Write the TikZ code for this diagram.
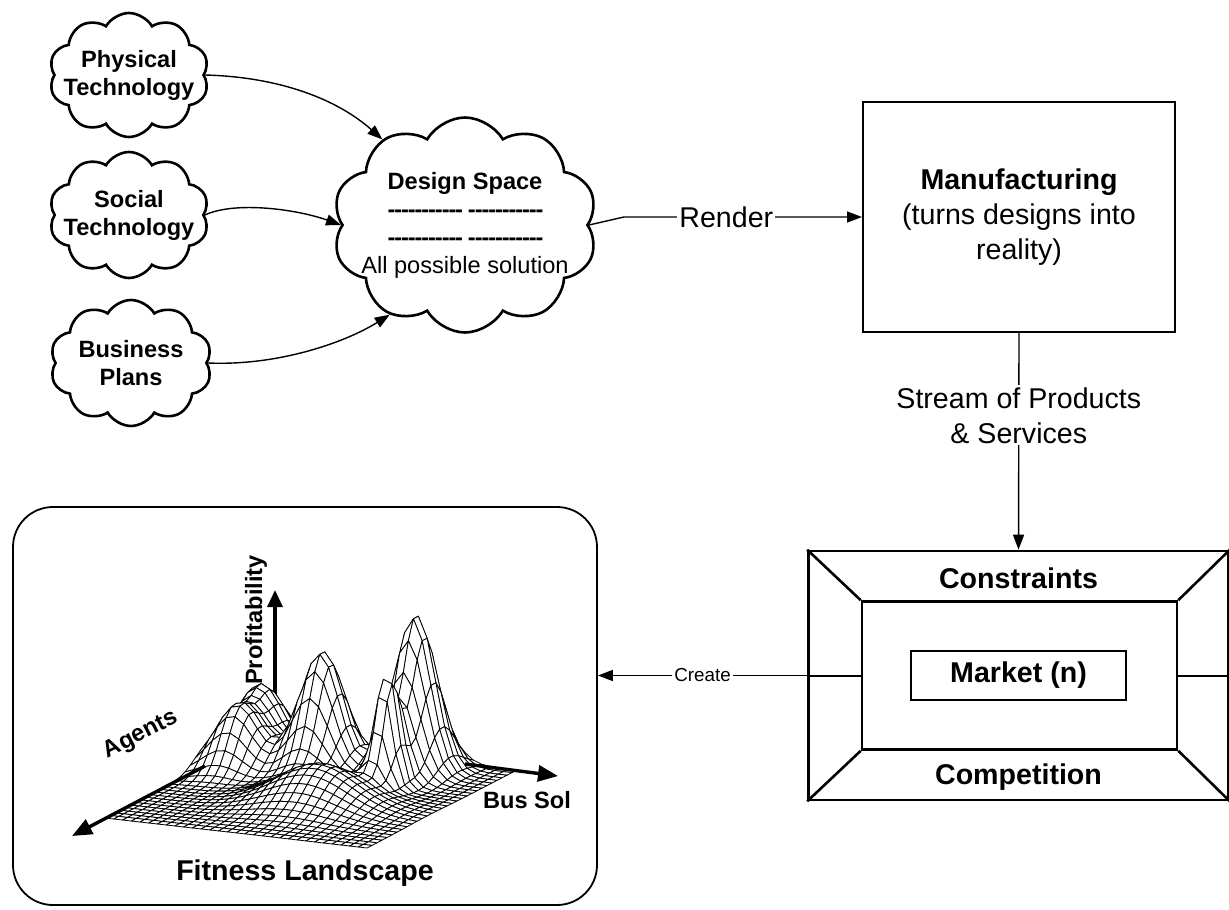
\documentclass[tikz,border=0pt]{standalone}
\usepackage{fontspec}
\setmainfont{Liberation Sans}
\usetikzlibrary{shapes.symbols,arrows.meta}

% font sizes
\newcommand\fbig{\fontsize{14.3}{17.5}\selectfont}
\newcommand\fmid{\fontsize{11.8}{14}\selectfont}
\newcommand\fsmall{\fontsize{9.4}{11}\selectfont}
% a run of bold hyphens
\newcommand\dashgroup{\foreach\k in {1,...,11}{-\kern-0.55pt}}
\newcommand\dashrow{\dashgroup\hspace{3pt}\dashgroup}

% height of the fitness surface over the unit square
\newcommand\landz[2]{\fpeval{
 158*exp(-((#1-0.697)^2/0.009+(#2-0.15)^2/0.016))
+120*exp(-((#1-0.399)^2/0.011+(#2-0.25)^2/0.016))
+108*exp(-((#1-0.716)^2/0.0025+(#2-0.37)^2/0.006))
+ 67*exp(-((#1-0.10)^2/0.014+(#2-0.13)^2/0.014))
+ 61*exp(-((#1-0.124)^2/0.013+(#2-0.33)^2/0.013))
+ 40*exp(-((#1-0.584)^2/0.045+(#2-0.6)^2/0.029))}}

\tikzset{
  puff/.style={cloud, cloud puffs=10, cloud puff arc=120, cloud ignores aspect,
    draw, line width=1.3pt, inner sep=0pt},
  cloudtext/.style={align=center, font=\fmid\bfseries, inner sep=0pt},
  link/.style={line width=0.7pt, -{Triangle[length=7.5pt,width=5.5pt]}},
  frame/.style={draw, line width=1.3pt, inner sep=0pt},
  plainbox/.style={draw, line width=1pt, inner sep=0pt},
  axisarrow/.style={line width=1.7pt, -{Triangle[length=10pt,width=8pt]}},
  axislabel/.style={font=\fmid\bfseries, inner sep=0pt},
  meshcell/.style={fill=white, draw=black, line width=0.4pt, line join=round},
}

\begin{document}
\begin{tikzpicture}[x=0.5pt,y=-0.5pt]
\useasboundingbox (0,0) rectangle (1229,909);

% ---- sources of designs ----
\node[puff, minimum width=80pt, minimum height=62pt] (phys) at (129,75) {};
\node[cloudtext] (physt) at (phys.center) {Physical\\Technology};
\node[puff, minimum width=80pt, minimum height=63pt] (soc) at (129,215) {};
\node[cloudtext] (soct) at (soc.center) {Social\\Technology};
\node[puff, minimum width=81pt, minimum height=63pt] (bus) at (131,363) {};
\node[cloudtext] (bust) at (bus.center) {Business\\Plans};

\node[puff, minimum width=132.5pt, minimum height=107.5pt] (design) at (465,225) {};
\node[cloudtext, font=\fmid] (designt) at (design.center)
  {\bfseries Design Space\\ \bfseries\dashrow\\ \bfseries\dashrow\\ All possible solution};

\draw[link] (phys.east) .. controls +(75,2) and +(-45,-40) .. (design.134);
\draw[link] (soc.east) .. controls +(30,-14) and +(-45,-16) .. (design.west);
\draw[link] (bus.east) .. controls +(70,3) and +(-45,28) .. (design.230);

% ---- manufacturing ----
\node[plainbox, minimum width=156pt, minimum height=115pt, align=center, font=\fbig] (manuf) at (1019,217)
  {\bfseries Manufacturing\\(turns designs into\\reality)};

\draw[link] (design.east) -- ++(35,-8)
  -- node[pos=0.43, fill=white, inner sep=1pt, font=\fbig] {Render} (manuf.west);

% ---- market ----
\node[frame, minimum width=210pt, minimum height=124.5pt] (outer) at (1018.5,675.5) {};
\node[frame, minimum width=157.5pt, minimum height=74pt] (inner) at (1019.5,675.5) {};
\node[frame, minimum width=107.5pt, minimum height=24.5pt, font=\fbig\bfseries] (market) at (1018.5,675.5) {Market (n)};
\draw[line width=1.3pt] (outer.north west) -- (inner.north west)
  (outer.north east) -- (inner.north east)
  (outer.south west) -- (inner.south west)
  (outer.south east) -- (inner.south east);
\node[font=\fbig\bfseries] (constr) at (1018.5,578) {Constraints};
\node[font=\fbig\bfseries] (compet) at (1018.5,777) {Competition};
\draw[line width=1pt] (outer.west) -- (inner.west) (inner.east) -- (outer.east);

\draw[link] (manuf.south) -- node[pos=0.38, fill=white, inner sep=1pt, align=center, font=\fbig]
  {Stream of Products\\\& Services} (outer.north);

% ---- fitness landscape ----
\node[draw, line width=0.9pt, rounded corners=20pt, minimum width=292pt, minimum height=199pt] (fit) at (305,706) {};
\node[font=\fbig\bfseries] (fitlabel) at (305,873) {Fitness Landscape};

\draw[link] (outer.west) -- node[pos=0.5, fill=white, inner sep=1pt, font=\fsmall] {Create} (outer.west -| fit.east);

\coordinate (profbase) at (275,702);
\coordinate (proftip) at (275,590);
\coordinate (agentsfrom) at (205,766);
\coordinate (agentstip) at (72,836);
\coordinate (busfrom) at (465,764);
\coordinate (bustip) at (558,776);

\draw[line width=1.7pt, -{Triangle[length=8.5pt,width=7.5pt]}] (profbase) -- (proftip);

% surface points
\foreach \i in {0,...,30}{
  \foreach \j in {0,...,30}{
    \edef\uu{\fpeval{\i/30}}\edef\vv{\fpeval{\j/30}}
    \edef\zz{\landz{\uu}{\vv}}
    \expandafter\xdef\csname lp\i-\j\endcsname{\fpeval{round(255+262*\uu-150*\vv,2)},\fpeval{round(740+30*\uu+78*\vv-\zz,2)}}
  }
}
% surface cells, far rows first
\foreach \j in {0,...,29}{
  \foreach \i in {0,...,29}{
    \edef\ip{\the\numexpr\i+1\relax}\edef\jp{\the\numexpr\j+1\relax}
    \edef\cell{\noexpand\filldraw[meshcell] (\csname lp\i-\j\endcsname) -- (\csname lp\ip-\j\endcsname)
      -- (\csname lp\ip-\jp\endcsname) -- (\csname lp\i-\jp\endcsname) -- cycle;}
    \cell
  }
}

\draw[axisarrow] (agentsfrom) -- (agentstip);
\draw[axisarrow] (busfrom) -- (bustip);
\node[axislabel, rotate=90] (proflabel) at (256,620) {Profitability};
\node[axislabel, rotate=27] (agentslabel) at (141,735) {Agents};
\node[axislabel] (buslabel) at (527,800) {Bus Sol};
\end{tikzpicture}
\end{document}
